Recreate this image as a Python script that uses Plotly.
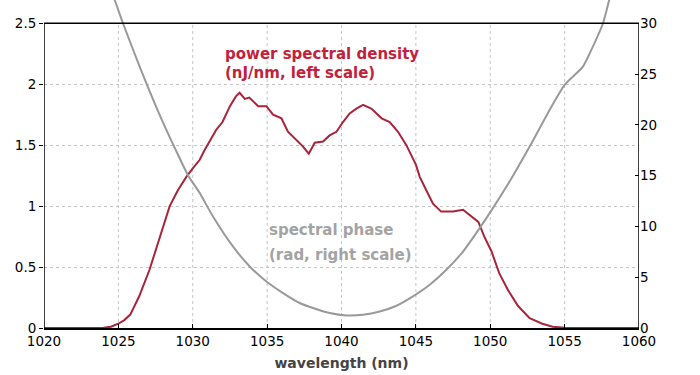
import plotly.graph_objects as go

# ---- data ----
psd_wl = [1020, 1022, 1024, 1024.5, 1025, 1025.4, 1025.8, 1026.4, 1027.1, 1027.67, 1028.0, 1028.45,
          1029.0, 1029.57, 1030.0, 1030.47, 1030.8, 1031.15, 1031.6, 1032.0, 1032.5, 1032.9,
          1033.15, 1033.5, 1033.8, 1034.4, 1034.95, 1035.4, 1035.96, 1036.4, 1036.97, 1037.4,
          1037.8, 1038.2, 1038.76, 1039.2, 1039.66, 1040.1, 1040.55, 1041.0, 1041.45, 1042.0,
          1042.7, 1043.24, 1043.8, 1044.36, 1045.0, 1045.26, 1045.7, 1046.15, 1046.7, 1047.5,
          1048.17, 1048.6, 1049.2, 1049.6, 1050.08, 1050.6, 1051.2, 1051.87, 1052.65, 1053.5,
          1054.2, 1055, 1060]
psd_val = [0, 0, 0.003, 0.01, 0.035, 0.065, 0.11, 0.26, 0.48, 0.70, 0.83, 1.0,
           1.13, 1.24, 1.31, 1.38, 1.46, 1.54, 1.63, 1.69, 1.82, 1.90,
           1.93, 1.88, 1.89, 1.82, 1.82, 1.75, 1.72, 1.61, 1.54, 1.49,
           1.43, 1.52, 1.53, 1.58, 1.61, 1.69, 1.76, 1.80, 1.83, 1.80,
           1.72, 1.69, 1.61, 1.50, 1.34, 1.24, 1.13, 1.02, 0.955, 0.955,
           0.97, 0.93, 0.87, 0.75, 0.63, 0.45, 0.31, 0.18, 0.08, 0.035,
           0.01, 0.002, 0]

phase_wl = [1024.6, 1024.75, 1025.31, 1026.43, 1027.78, 1028.79, 1029.68, 1030.47, 1031.36,
            1032.7, 1033.83, 1034.95, 1036.07, 1037.19, 1038.08, 1039.2, 1040.33, 1041.45,
            1042.57, 1043.7, 1044.8, 1045.93, 1047.05, 1048.17, 1049.29, 1049.96, 1051.3,
            1052.65, 1053.99, 1055.0, 1055.56, 1056.23, 1056.9, 1057.58, 1058.0, 1058.1]
phase_val = [32.8, 32.29, 30.0, 25.73, 20.96, 17.73, 15.04, 13.28, 10.98,
             8.03, 6.06, 4.58, 3.44, 2.46, 1.97, 1.48, 1.24, 1.31,
             1.63, 2.19, 3.11, 4.26, 5.73, 7.53, 9.84, 11.31, 14.42,
             17.86, 21.47, 23.93, 24.75, 25.73, 27.7, 30.0, 32.3, 32.8]

x_ticks = [1020, 1025, 1030, 1035, 1040, 1045, 1050, 1055, 1060]
left_ticks = [0, 0.5, 1, 1.5, 2, 2.5]
left_labels = ["0", "0.5", "1", "1.5", "2", "2.5"]
right_ticks = [0, 5, 10, 15, 20, 25, 30]

X_MIN, X_MAX = 1020, 1060
L_TOP = 2.5
# visible area extends above the framed box up to the page top
L_RANGE_TOP = 2.691
R_RANGE_TOP = 32.29

RED_LINE = "#a8243a"
RED_TEXT = "#c2213c"
GRAY_LINE = "#999999"
GRAY_TEXT = "#a3a3a3"
GRID = "#c4c4c4"
FONT = "DejaVu Sans"

fig = go.Figure()
fig.add_trace(go.Scatter(x=psd_wl, y=psd_val, mode="lines",
                         line=dict(color=RED_LINE, width=2), yaxis="y", showlegend=False))
fig.add_trace(go.Scatter(x=phase_wl, y=phase_val, mode="lines",
                         line=dict(color=GRAY_LINE, width=2, shape="spline", smoothing=0.6),
                         yaxis="y2", showlegend=False))

shapes = []
# vertical dashed grid lines (only inside the frame)
for xv in x_ticks[1:-1]:
    shapes.append(dict(type="line", xref="x", yref="y", x0=xv, x1=xv, y0=0, y1=L_TOP,
                       line=dict(color=GRID, width=1, dash="3px,3px"), layer="below"))
# frame: top, left, right
for (x0, x1, y0, y1) in [(X_MIN, X_MAX, L_TOP, L_TOP), (X_MIN, X_MIN, 0, L_TOP), (X_MAX, X_MAX, 0, L_TOP)]:
    shapes.append(dict(type="line", xref="x", yref="y", x0=x0, x1=x1, y0=y0, y1=y1,
                       line=dict(color="black", width=1.5)))

annotations = [
    dict(text="<b>power spectral density</b>", x=1032.0, y=2.245, xref="x", yref="y",
         xanchor="left", yanchor="middle", showarrow=False,
         font=dict(family=FONT, size=15, color=RED_TEXT)),
    dict(text="<b>(nJ/nm, left scale)</b>", x=1032.0, y=2.09, xref="x", yref="y",
         xanchor="left", yanchor="middle", showarrow=False,
         font=dict(family=FONT, size=15, color=RED_TEXT)),
    dict(text="<b>spectral phase</b>", x=1035.0, y=0.806, xref="x", yref="y",
         xanchor="left", yanchor="middle", showarrow=False,
         font=dict(family=FONT, size=15, color=GRAY_TEXT)),
    dict(text="<b>(rad, right scale)</b>", x=1035.0, y=0.595, xref="x", yref="y",
         xanchor="left", yanchor="middle", showarrow=False,
         font=dict(family=FONT, size=15, color=GRAY_TEXT)),
]

fig.update_layout(
    width=700, height=375,
    margin=dict(l=44, r=61, t=0, b=47, pad=0, autoexpand=False),
    paper_bgcolor="white", plot_bgcolor="white",
    font=dict(family=FONT, size=13.5, color="black"),
    xaxis=dict(range=[X_MIN, X_MAX], tickvals=x_ticks, ticktext=[str(v) for v in x_ticks],
               showgrid=False, zeroline=False, showline=True, linecolor="black", linewidth=1.5,
               ticks="inside", ticklen=4, tickcolor="black", automargin=False,
               title=dict(text="<b>wavelength (nm)</b>", standoff=10,
                          font=dict(family=FONT, size=14, color="#444444"))),
    yaxis=dict(range=[0, L_RANGE_TOP], tickvals=left_ticks, ticktext=left_labels,
               showgrid=True, gridcolor=GRID, griddash="3px,3px", gridwidth=1, automargin=False,
               zeroline=False, showline=False, ticks="outside", ticklen=4, tickcolor="black"),
    yaxis2=dict(range=[0, R_RANGE_TOP], tickvals=right_ticks, ticktext=[str(v) for v in right_ticks],
                overlaying="y", side="right", showgrid=False, zeroline=False, showline=False,
                automargin=False, ticks="inside", ticklen=4, tickcolor="black"),
    shapes=shapes,
    annotations=annotations,
)

fig.write_html("out.html", config={"displayModeBar": False},
               post_script="document.body.style.margin='0';")
